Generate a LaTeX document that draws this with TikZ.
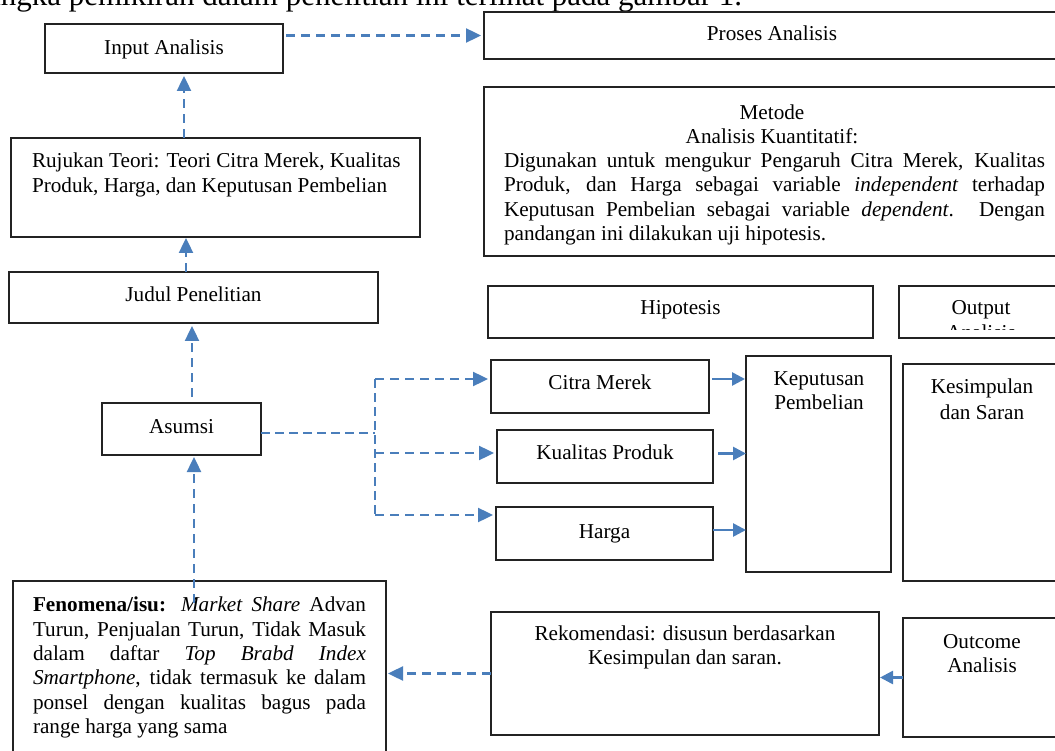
\documentclass[tikz,border=0pt]{standalone}
\usepackage{fontspec}
\setmainfont{Liberation Serif}
\usetikzlibrary{arrows.meta}
\definecolor{arblue}{RGB}{74,126,187}
\definecolor{boxline}{RGB}{35,35,35}
\newcommand\mybox[5]{\node[box, minimum width=#4pt, minimum height=#5pt] (#1) at (#2,#3) {};}
\begin{document}
\begin{tikzpicture}[x=1pt,y=-1pt,
  box/.style={draw=boxline, line width=1.3pt, anchor=north west, inner sep=0pt, outer sep=0pt},
  txt/.style={inner sep=0pt, outer sep=0pt, font=\fontsize{21.2}{25}\selectfont},
  dasharr/.style={draw=arblue, line width=2.4pt, dash pattern=on 9pt off 6pt, -{Triangle[length=15pt,width=14pt]}},
  dashline/.style={draw=arblue, line width=2pt, dash pattern=on 9pt off 5pt},
  solidarr/.style={draw=arblue, line width=2.6pt, -{Triangle[length=13pt,width=13pt]}},
]
\useasboundingbox (0,0) rectangle (1055,751);
\clip (0,0) rectangle (1055,751);

% partial sentence at the top (cut by the page)
\node[txt, font=\fontsize{31}{35}\selectfont, anchor=base east] (intro) at (742,6) {Kerangka pemikiran dalam penelitian ini terlihat pada gambar 1.};

% boxes
\mybox{inp}{45}{24}{238}{49}
\mybox{pro}{484}{12}{585}{47}
\mybox{met}{484}{87}{585}{169}
\mybox{ruj}{11}{138}{409}{99}
\mybox{jud}{9}{272}{369}{51}
\mybox{asu}{102}{403}{159}{52}
\mybox{hip}{488}{286}{385}{52}
\mybox{out}{899}{286}{170}{52}
\mybox{cit}{491}{360}{218}{53}
\mybox{kua}{497}{430}{216}{53}
\mybox{har}{496}{507}{217}{53}
\mybox{kep}{746}{356}{145}{216}
\mybox{kes}{903}{364}{160}{217}
\mybox{fen}{13}{581}{373}{190}
\mybox{rek}{491}{612}{388}{123}
\mybox{outc}{903}{618}{160}{119}

% texts
\node[txt, anchor=base] (tinp) at (164,54.5) {Input Analisis};
\node[txt, anchor=base] (tpro) at (772,40.5) {Proses Analisis};
\node[txt, anchor=base] (tmet1) at (772,119.5) {Metode};
\node[txt, anchor=base] (tmet2) at (772,143.5) {Analisis Kuantitatif:};
\node[txt, anchor=base west] (tmet3) at (504,167.5) {\makebox[541pt][s]{Digunakan untuk mengukur Pengaruh Citra Merek, Kualitas}};
\node[txt, anchor=base west] (tmet4) at (504,192) {\makebox[541pt][s]{Produk, dan Harga sebagai variable \textit{independent} terhadap}};
\node[txt, anchor=base west] (tmet5) at (504,216.5) {\makebox[541pt][s]{Keputusan Pembelian sebagai variable \textit{dependent}. Dengan}};
\node[txt, anchor=base west] (tmet6) at (504,241) {pandangan ini dilakukan uji hipotesis.};
\node[txt, anchor=base west] (truj1) at (32,168) {Rujukan Teori: Teori Citra Merek, Kualitas};
\node[txt, anchor=base west] (truj2) at (32,192.5) {Produk, Harga, dan Keputusan Pembelian};
\node[txt, anchor=base] (tjud) at (193.5,301.5) {Judul Penelitian};
\node[txt, anchor=base] (thip) at (680.5,315) {Hipotesis};
\begin{scope}
  \clip (899,286) rectangle (1069,330);
  \node[txt, anchor=base] (tout1) at (981,314.5) {Output};
  \node[txt, anchor=base] (tout2) at (981,339) {Analisis};
\end{scope}
\node[txt, anchor=base] (tasu) at (181.5,433.5) {Asumsi};
\node[txt, anchor=base] (tcit) at (600,389.5) {Citra Merek};
\node[txt, anchor=base] (tkua) at (605,459.5) {Kualitas Produk};
\node[txt, anchor=base] (thar) at (604.5,538) {Harga};
\node[txt, anchor=base] (tkep1) at (819,385.5) {Keputusan};
\node[txt, anchor=base] (tkep2) at (819,409.5) {Pembelian};
\node[txt, anchor=base] (tkes1) at (982,393.5) {Kesimpulan};
\node[txt, anchor=base] (tkes2) at (982,419) {dan Saran};
\node[txt, anchor=base west] (tfen1) at (33,611.5) {\makebox[333pt][s]{\textbf{Fenomena/isu:} \textit{Market Share} Advan}};
\node[txt, anchor=base west] (tfen2) at (33,636) {\makebox[333pt][s]{Turun, Penjualan Turun, Tidak Masuk}};
\node[txt, anchor=base west] (tfen3) at (33,660) {\makebox[333pt][s]{dalam daftar \textit{Top Brabd Index}}};
\node[txt, anchor=base west] (tfen4) at (33,684.5) {\makebox[333pt][s]{\textit{Smartphone}, tidak termasuk ke dalam}};
\node[txt, anchor=base west] (tfen5) at (33,709) {\makebox[333pt][s]{ponsel dengan kualitas bagus pada}};
\node[txt, anchor=base west] (tfen6) at (33,733.5) {range harga yang sama};
\node[txt, anchor=base] (trek1) at (685,640.5) {Rekomendasi: disusun berdasarkan};
\node[txt, anchor=base] (trek2) at (685,664.5) {Kesimpulan dan saran.};
\node[txt, anchor=base] (toutc1) at (982,648) {Outcome};
\node[txt, anchor=base] (toutc2) at (982,672) {Analisis};

% connectors
\draw[dasharr, shorten <=3pt, shorten >=3pt] (inp.east |- pro.west) -- (pro.west);
\draw[dasharr, shorten >=3pt] ([xshift=-31.5pt]ruj.north) -- ([xshift=20pt]inp.south);
\draw[dasharr, shorten >=1pt] ([xshift=-7.5pt]jud.north) -- ([xshift=-29.5pt]ruj.south);
\draw[dasharr, shorten <=6pt, shorten >=3pt] ([xshift=10.5pt]asu.north) -- ([xshift=-1.5pt]jud.south);
\draw[dasharr, shorten <=-22pt, shorten >=2pt] ([xshift=-5.5pt]fen.north) -- ([xshift=12.5pt]asu.south);

\coordinate (j) at (375,433);
\coordinate (cin) at ([yshift=7.5pt]cit.west);
\coordinate (kin) at ([yshift=3.5pt]kua.west);
\coordinate (hin) at ([yshift=18.5pt]har.west);
\draw[dashline] ([yshift=-4pt]asu.east) -- (j);
\draw[dashline] (j |- cin) -- (j |- hin);
\draw[dasharr, shorten >=3pt] (j |- cin) -- (cin);
\draw[dasharr, shorten >=3pt] (j |- kin) -- (kin);
\draw[dasharr, shorten >=3pt] (j |- hin) -- (hin);

\coordinate (cout) at ([xshift=3pt,yshift=7.5pt]cit.east);
\coordinate (kout) at ([xshift=5pt,yshift=3pt]kua.east);
\coordinate (hout) at ([yshift=3.5pt]har.east);
\draw[solidarr, shorten >=1pt] (cout) -- (kep.west |- cout);
\draw[solidarr] (kout) -- (kep.west |- kout);
\draw[solidarr] (hout) -- (kep.west |- hout);

\draw[solidarr, shorten >=1pt] (outc.west) -- (outc.west -| rek.east);
\draw[dasharr, shorten >=2pt] (rek.west) -- (rek.west -| fen.east);
\end{tikzpicture}
\end{document}
